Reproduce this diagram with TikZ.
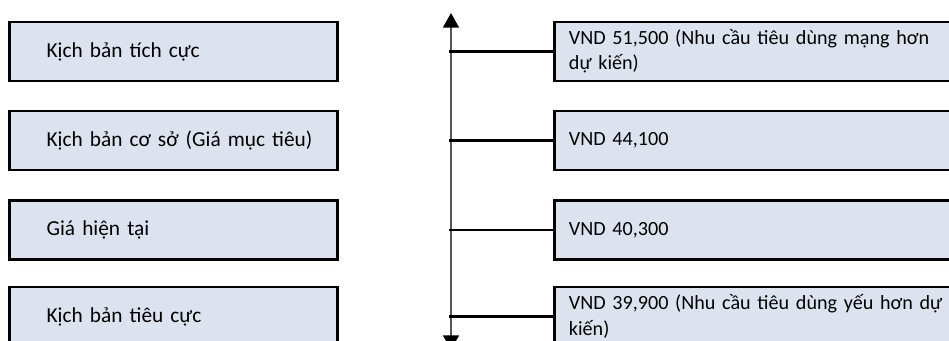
\documentclass[tikz,border=0pt]{standalone}
\usepackage{fontspec}
\setmainfont{Carlito}
\usetikzlibrary{arrows.meta}
\definecolor{boxfill}{HTML}{DDE3EE}
\definecolor{axisgray}{HTML}{555555}
\tikzset{
  scen/.style={draw,line width=1.9pt,fill=boxfill,anchor=west,minimum height=44pt,
    text width=190pt,inner xsep=28pt,font=\fontsize{16}{19}\selectfont,
    execute at begin node=\hbox\bgroup,execute at end node=\egroup},
  val/.style={draw,line width=1.9pt,fill=boxfill,anchor=west,minimum height=44pt,
    text width=312pt,inner xsep=11pt,align=left,font=\fontsize{15.1}{19}\selectfont},
  link/.style={draw,line width=1.9pt},
  axis/.style={draw=axisgray,line width=1.1pt,
    {Triangle[width=12pt,length=11pt,color=black]}-{Triangle[width=12pt,length=11pt,color=black]}}
}
\begin{document}
\begin{tikzpicture}[x=0.75pt,y=-0.75pt]
  \useasboundingbox (0,0) rectangle (949,341);
  \clip (0,0) rectangle (949,341);
  \node[scen] (s1) at (8,51.5) {Kịch bản tích cực};
  \node[scen] (s2) at (8,140.5) {Kịch bản cơ sở (Giá mục tiêu)};
  \node[scen] (s3) at (8,230) {Giá hiện tại};
  \node[scen] (s4) at (8,316.5) {Kịch bản tiêu cực};
  \node[val] (v1) at (553,51.5) {VND 51,500 (Nhu cầu tiêu dùng mạng hơn\\dự kiến)};
  \node[val] (v2) at (553,140.5) {VND 44,100};
  \node[val] (v3) at (553,230) {VND 40,300};
  \node[val] (v4) at (553,316.5) {VND 39,900 (Nhu cầu tiêu dùng yếu hơn dự\\kiến)};
  \coordinate (axtop) at (451,13);
  \coordinate (axbot) at (451,350);
  \draw[axis] (axbot) -- (axtop);
  \begin{scope}[link]
    \draw ([xshift=-1.5pt]axtop |- v1.west) -- (v1.west);
    \draw ([xshift=-1.5pt]axtop |- v2.west) -- (v2.west);
    \draw ([xshift=-1.5pt]axtop |- v3.west) -- (v3.west);
    \draw ([xshift=-1.5pt]axtop |- v4.west) -- (v4.west);
  \end{scope}
\end{tikzpicture}
\end{document}
